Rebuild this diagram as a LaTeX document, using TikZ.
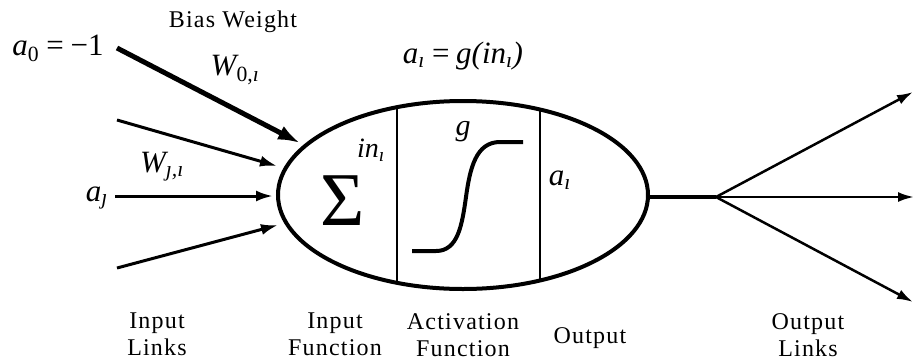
\documentclass[tikz,border=0pt]{standalone}
\usepackage{fontspec}
\setmainfont{Liberation Serif}
\newfontfamily\labelfont[LetterSpace=5]{Liberation Serif}
\usetikzlibrary{arrows.meta,shapes.geometric}
\tikzset{
  lbl/.style={font=\labelfont\fontsize{24}{27}\selectfont, align=center, inner sep=0pt},
  mth/.style={font=\fontsize{31}{33}\selectfont\itshape, inner sep=0pt},
  inarrow/.style={line width=3pt, -{Latex[length=17pt,width=11pt]}},
  biasarrow/.style={line width=5pt, -{Latex[length=22pt,width=15pt]}},
  outarrow/.style={line width=2.5pt, -{Latex[length=16pt,width=10pt]}},
  cellline/.style={line width=2pt},
}
\begin{document}
\begin{tikzpicture}[x=1pt,y=-1pt]
\useasboundingbox (0,0) rectangle (914,360);
% neuron body
\node[ellipse, draw, line width=4pt, minimum width=370pt, minimum height=188pt, inner sep=0pt] (neuron) at (463,195) {};
\begin{scope}
  \clip (463,195) ellipse [x radius=185pt, y radius=94pt];
  \draw[cellline] (397,90) -- (397,300);
  \draw[cellline] (540,90) -- (540,300);
\end{scope}
% contents
\node[font=\fontsize{76}{76}\selectfont, inner sep=0pt] (sigma) at (343,201) {Σ};
\node[mth, font=\fontsize{28}{30}\selectfont\itshape] (inl) at (371,150) {in\textsubscript{ı}};
\node[mth, font=\fontsize{30}{30}\selectfont\itshape] (gl) at (463,132) {g};
\draw[line width=4pt] (412,251) -- (436,251) .. controls (458,251) and (462,225) .. (466,197) .. controls (470,168) and (476,142) .. (500,142) -- (523,142);
\node[mth] (at) at (560,180) {a\textsubscript{ı}};
% top formula
\node[mth] (formula) at (463,56) {a\textsubscript{ı}\,=\,g(in\textsubscript{ı})};
\node[lbl] (bias) at (233,22) {Bias Weight};
\node[mth] (a0) at (58,48) {a\textsubscript{\upshape 0}\,=\,\upshape −1};
\node[mth] (w0) at (235,70) {W\textsubscript{\upshape 0,\itshape ı}};
\node[mth] (aj) at (97,198) {a\textsubscript{ȷ}};
\node[mth] (wj) at (162,167) {W\textsubscript{ȷ,ı}};
% input connectors
\coordinate (b0) at (117,48);  \coordinate (b1) at (300,143);
\coordinate (i1s) at (117,120); \coordinate (i1e) at (277,166);
\coordinate (i2s) at (115,196); \coordinate (i2e) at (273,196);
\coordinate (i3s) at (117,268); \coordinate (i3e) at (278,225);
\draw[biasarrow] (b0) -- (b1);
\draw[inarrow] (i1s) -- (i1e);
\draw[inarrow] (i2s) -- (i2e);
\draw[inarrow] (i3s) -- (i3e);
% output
\coordinate (junc) at (716,197);
\coordinate (o1) at (913,92);
\coordinate (o2) at (914,197);
\coordinate (o3) at (913,302);
\draw[line width=4pt] (neuron.east |- junc) -- (junc);
\draw[outarrow] (junc) -- (o1);
\draw[outarrow] (junc) -- (o2);
\draw[outarrow] (junc) -- (o3);
% bottom labels
\node[lbl, anchor=north] (l1) at (157,313) {Input\\Links};
\node[lbl, anchor=north] (l2) at (335,313) {Input\\Function};
\node[lbl, anchor=north] (l3) at (463,313) {Activation\\Function};
\node[lbl, anchor=north] (l4) at (590,327) {Output};
\node[lbl, anchor=north] (l5) at (808,313) {Output\\Links};
\end{tikzpicture}
\end{document}
